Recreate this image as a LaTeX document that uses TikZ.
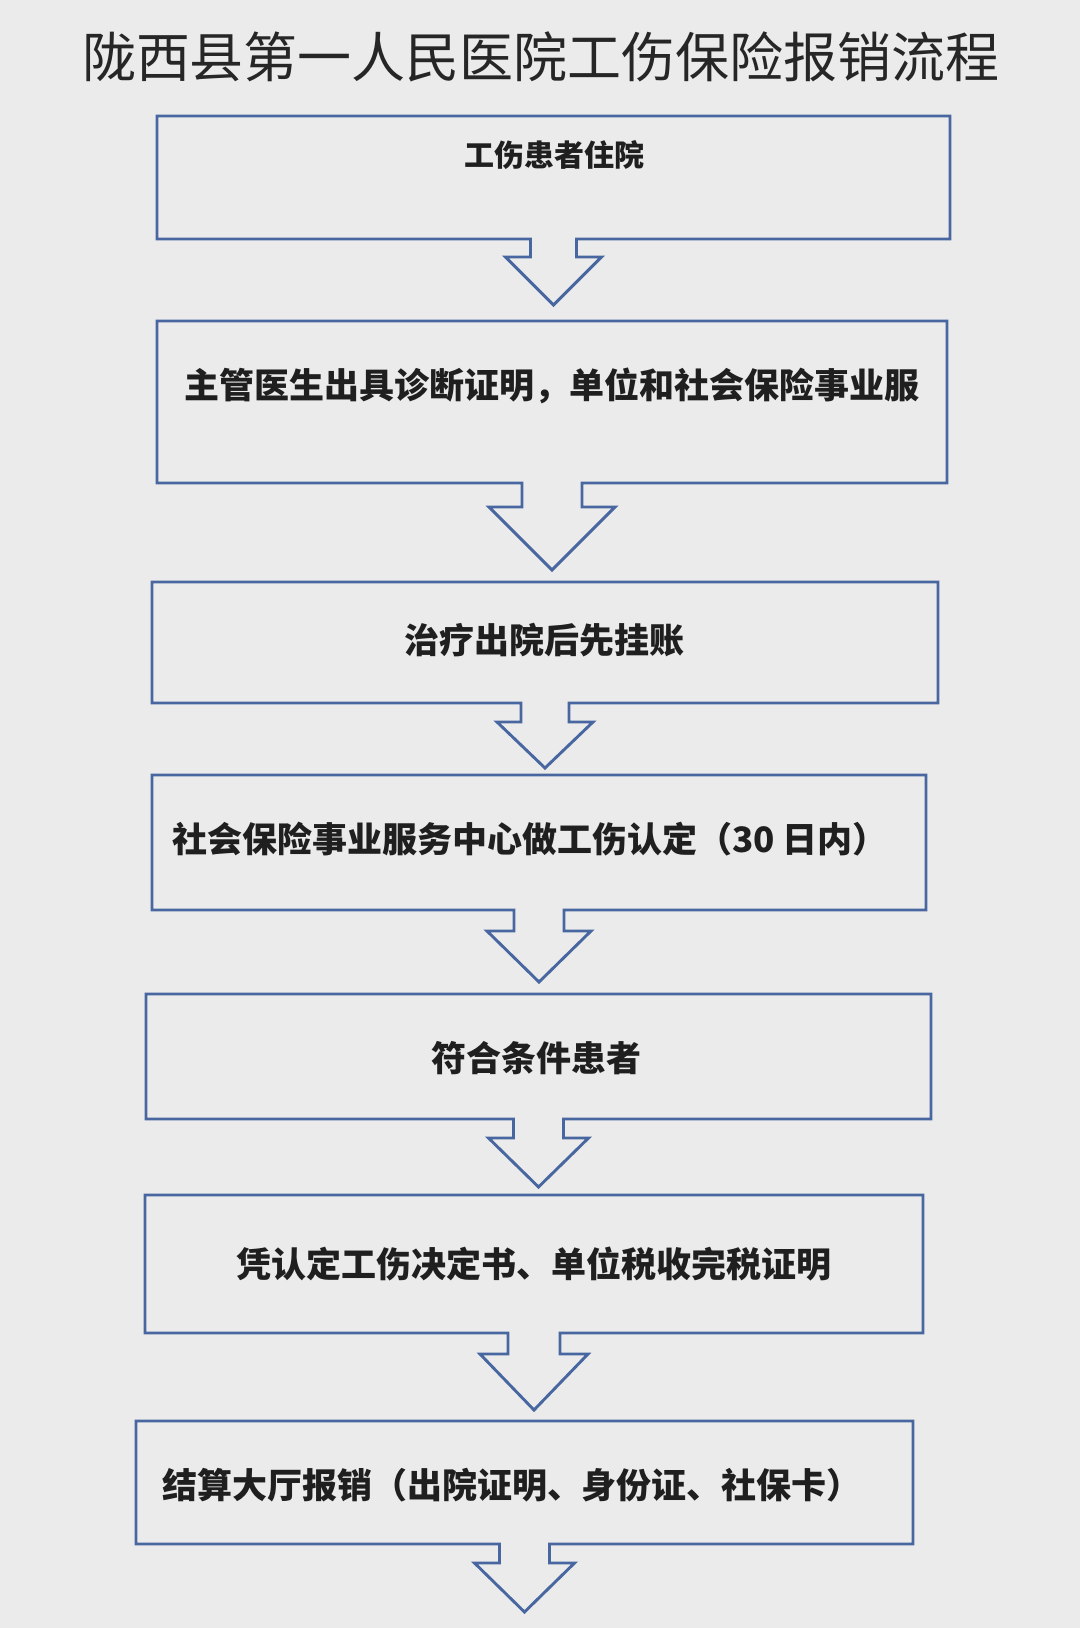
\documentclass[tikz,border=0pt]{standalone}
\usepackage{fontspec}
\setmainfont{Noto Sans CJK SC}
\usetikzlibrary{calc, fit}

\definecolor{pagebg}{RGB}{235,235,235}
\definecolor{flowblue}{RGB}{72,102,160}

\begin{document}
\begin{tikzpicture}[
  x=0.5pt, y=-0.5pt,
  stepbox/.style={rectangle, inner sep=0pt, outer sep=0pt, draw=none},
  steptext/.style={font=\bfseries\fontsize{17.5}{20}\selectfont, text=black!88},
  flow/.style={draw=flowblue, line width=1.45pt, line join=miter}
]
  % background
  \fill[pagebg] (0,0) rectangle (1080,1628);

  % title
  \node[font=\fontsize{27}{32}\selectfont, text=black!85] (title) at (541,57)
    {陇西县第一人民医院工伤保险报销流程};

  % boxes
  \node[stepbox, fit={(157,116) (950,239)}]   (b1) {};
  \node[stepbox, fit={(157,321) (947,483)}]   (b2) {};
  \node[stepbox, fit={(152,582) (938,703)}]   (b3) {};
  \node[stepbox, fit={(152,775) (926,910)}]   (b4) {};
  \node[stepbox, fit={(146,994) (931,1119)}]  (b5) {};
  \node[stepbox, fit={(145,1195) (923,1333)}] (b6) {};
  \node[stepbox, fit={(136,1421) (913,1544)}] (b7) {};

  % texts
  \node[steptext, font=\bfseries\fontsize{15}{18}\selectfont] (t1) at (554,155) {工伤患者住院};
  \node[steptext] (t2) at (552,386)  {主管医生出具诊断证明，单位和社会保险事业服};
  \node[steptext] (t3) at (544,640)  {治疗出院后先挂账};
  \node[steptext] (t4) at (530,839)  {社会保险事业服务中心做工伤认定（30 日内）};
  \node[steptext] (t5) at (536,1058) {符合条件患者};
  \node[steptext] (t6) at (534,1264) {凭认定工伤决定书、单位税收完税证明};
  \node[steptext] (t7) at (512,1485) {结算大厅报销（出院证明、身份证、社保卡）};

  % outlines with the down arrows
  \foreach \b/\hs/\hf/\fd/\td in {b1/23/48/18/66, b2/30/63/24/87, b3/24/48/19/65,
      b4/25/52/21/72, b5/25/50/19/68, b6/26/54/21/77, b7/25/50/19/68}
    \draw[flow] (\b.south west) -- (\b.north west) -- (\b.north east) -- (\b.south east)
      -- ($(\b.south)+(\hs,0)$) -- ($(\b.south)+(\hs,\fd)$) -- ($(\b.south)+(\hf,\fd)$)
      -- ($(\b.south)+(0,\td)$) -- ($(\b.south)+(-\hf,\fd)$) -- ($(\b.south)+(-\hs,\fd)$)
      -- ($(\b.south)+(-\hs,0)$) -- cycle;
\end{tikzpicture}
\end{document}
